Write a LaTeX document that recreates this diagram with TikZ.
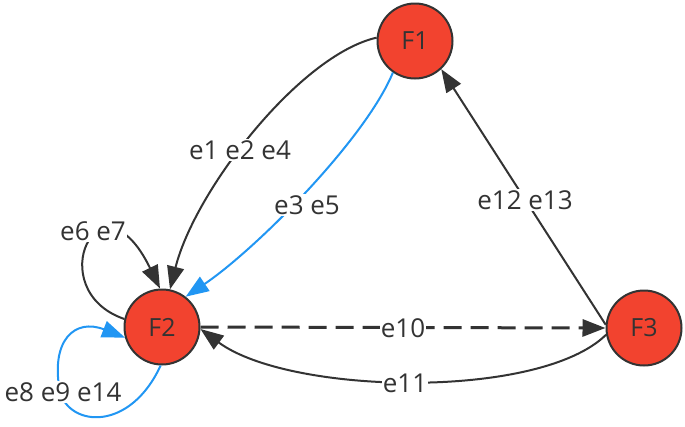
\documentclass[tikz,border=0pt]{standalone}
\usepackage{fontspec}
\setmainfont{Open Sans}
\usetikzlibrary{arrows.meta}
\definecolor{nodered}{HTML}{F2432F}
\definecolor{edgeblue}{HTML}{2196F3}
\definecolor{ink}{HTML}{333333}
\begin{document}
\begin{tikzpicture}[x=1pt,y=-1pt,
  fnode/.style={circle,draw=ink,line width=2pt,fill=nodered,minimum size=75pt,inner sep=0pt,text=ink,font=\fontsize{25}{30}\selectfont},
  edge/.style={color=ink,line width=2pt,-{Triangle[length=23pt,width=17pt]}},
  bedge/.style={edge,color=edgeblue},
  elabel/.style={fill=white,text=ink,inner sep=1pt,font=\fontsize{26}{30}\selectfont}]
\useasboundingbox (0,0) rectangle (685,426);
\node[fnode] (F1) at (415,41) {F1};
\node[fnode] (F2) at (162,327) {F2};
\node[fnode] (F3) at (644,328) {F3};
% F1 -> F2
\draw[edge] (F1.175) .. controls (300,55) and (195,190) .. (F2.78);
\draw[bedge] (F1.235) .. controls (365,140) and (255,250) .. (F2.52);
% self loops
\draw[edge] (F2.168) .. controls (40,290) and (100,165) .. (F2.93);
\draw[bedge] (F2.268) .. controls (130,432) and (70,427) .. (60,392)
   .. controls (50,340) and (75,318) .. (F2.196);
% F2 <-> F3
\draw[edge,line width=3pt,dash pattern=on 18pt off 9pt] (F2.east) -- (F3.west);
\draw[edge] (F3.190) .. controls (540,400) and (290,395) .. (F2.-3);
% F3 -> F1
\draw[edge] (F3.175) -- (F1.-47);
% labels
\node[elabel] (l1) at (240,150) {e1 e2 e4};
\node[elabel] (l2) at (307,205) {e3 e5};
\node[elabel] (l3) at (93,231) {e6 e7};
\node[elabel] (l4) at (63,392) {e8 e9 e14};
\node[elabel] (l5) at (403,328) {e10};
\node[elabel] (l6) at (405,383) {e11};
\node[elabel] (l7) at (525,200) {e12 e13};
\end{tikzpicture}
\end{document}
